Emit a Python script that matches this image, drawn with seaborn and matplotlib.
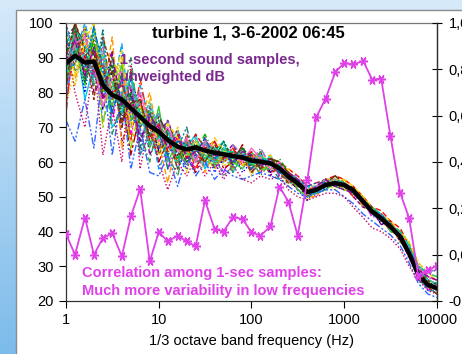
import numpy as np
import pandas as pd
import matplotlib
matplotlib.use("Agg")
import matplotlib.pyplot as plt
import seaborn as sns
from matplotlib.patches import Rectangle
from matplotlib.colors import LinearSegmentedColormap
from matplotlib.ticker import FixedLocator, FixedFormatter, NullLocator

# ---------------- data ----------------
freqs = [1, 1.25, 1.6, 2, 2.5, 3.15, 4, 5, 6.3, 8, 10, 12.5, 16, 20, 25, 31.5, 40, 50, 63, 80,
         100, 125, 160, 200, 250, 315, 400, 500, 630, 800, 1000, 1250, 1600, 2000, 2500, 3150,
         4000, 5000, 6300, 8000, 10000]

mean_db = [88.4, 90.6, 88.6, 88.9, 82.2, 79.3, 78.0, 75.5, 73.0, 70.4, 68.7, 66.3, 64.4, 63.6,
           64.2, 63.3, 62.7, 62.2, 61.7, 61.3, 60.4, 60.1, 59.6, 58.2, 55.8, 53.9, 51.3, 52.0,
           53.4, 53.9, 53.4, 51.9, 48.6, 45.7, 43.8, 41.4, 38.5, 33.7, 27.5, 24.6, 23.7]

correlation = [0.089, 0.0, 0.16, 0.0, 0.072, 0.093, -0.007, 0.165, 0.283, -0.029, 0.098, 0.057,
               0.082, 0.057, 0.036, 0.234, 0.11, 0.10, 0.162, 0.154, 0.096, 0.082, 0.122, 0.294,
               0.229, 0.082, 0.323, 0.594, 0.674, 0.788, 0.827, 0.821, 0.836, 0.756, 0.76, 0.512,
               0.268, 0.158, -0.093, -0.068, -0.047]

sample_01 = [96, 99, 84, 92, 75, 86, 70, 80, 66, 74, 63, 70, 60, 66, 61, 66, 60, 64, 59, 63, 58, 62, 57, 60, 54, 55, 50, 53, 52, 55, 52, 53, 47, 47, 42, 43, 37, 35, 26, 26, 22]
sample_02 = [78, 93, 97, 85, 90, 72, 84, 68, 78, 64, 72, 58, 67, 62, 58, 64, 61, 57, 63, 58, 62, 57, 61, 56, 57, 52, 52, 50, 55, 53, 54, 50, 49, 44, 45, 40, 39, 32, 29, 23, 25]
sample_03 = [90, 82, 95, 100, 80, 76, 90, 74, 70, 78, 66, 62, 70, 57, 66, 60, 65, 59, 60, 64, 56, 61, 58, 59, 53, 54, 49, 52, 54, 52, 55, 51, 48, 46, 43, 42, 38, 34, 27, 25, 23]
sample_04 = [84, 97, 78, 88, 95, 70, 74, 86, 62, 68, 74, 67, 58, 64, 68, 58, 63, 66, 57, 62, 61, 58, 62, 57, 56, 53, 53, 51, 53, 55, 52, 52, 50, 45, 44, 41, 40, 33, 28, 24, 24]
sample_05 = [92, 88, 99, 80, 84, 92, 66, 72, 80, 62, 68, 72, 64, 60, 62, 67, 58, 62, 65, 60, 59, 63, 56, 60, 55, 52, 51, 53, 55, 54, 53, 50, 47, 46, 42, 42, 37, 35, 27, 26, 23]
sample_06 = [74, 100, 90, 95, 78, 82, 80, 62, 74, 70, 60, 66, 69, 62, 57, 63, 66, 58, 60, 65, 57, 60, 61, 58, 57, 55, 50, 52, 53, 54, 54, 52, 49, 45, 44, 40, 39, 33, 29, 25, 24]
sample_07 = [98, 86, 92, 84, 98, 74, 86, 78, 64, 76, 70, 58, 64, 70, 60, 61, 62, 64, 58, 61, 63, 58, 59, 55, 54, 54, 52, 51, 54, 53, 52, 53, 48, 47, 43, 42, 38, 34, 26, 24, 22]
sample_08 = [86, 95, 80, 97, 86, 88, 72, 84, 76, 66, 64, 70, 62, 58, 66, 65, 57, 61, 63, 57, 60, 62, 57, 60, 56, 52, 49, 53, 52, 55, 53, 51, 49, 46, 45, 41, 39, 35, 28, 26, 25]
sample_09 = [80, 91, 100, 90, 72, 80, 94, 70, 82, 72, 58, 64, 66, 64, 61, 59, 64, 60, 62, 63, 59, 61, 60, 57, 55, 55, 51, 51, 54, 53, 54, 51, 48, 45, 43, 43, 38, 33, 27, 23, 23]
sample_10 = [94, 99, 88, 82, 92, 68, 78, 90, 68, 60, 72, 62, 56, 67, 63, 62, 60, 63, 57, 62, 61, 56, 60, 58, 57, 53, 52, 52, 53, 56, 53, 52, 50, 46, 44, 41, 40, 34, 28, 25, 24]
sample_11 = [88, 84, 93, 98, 80, 96, 64, 76, 72, 80, 66, 54, 68, 61, 65, 57, 63, 62, 61, 60, 58, 62, 58, 59, 54, 54, 50, 50, 54, 54, 52, 52, 47, 46, 43, 42, 37, 35, 27, 26, 22]
sample_12 = [76, 97, 86, 92, 88, 78, 84, 66, 84, 70, 70, 66, 60, 66, 58, 64, 60, 61, 64, 59, 62, 59, 57, 58, 56, 53, 52, 53, 53, 53, 54, 50, 49, 45, 44, 41, 39, 33, 28, 24, 24]
sample_13 = [100, 90, 96, 86, 76, 84, 76, 82, 62, 76, 64, 72, 63, 59, 64, 63, 62, 56, 59, 64, 57, 60, 61, 56, 55, 54, 51, 52, 55, 55, 53, 52, 48, 47, 43, 42, 38, 34, 26, 25, 23]
sample_14 = [82, 94, 82, 99, 84, 76, 88, 72, 78, 64, 76, 60, 66, 63, 60, 66, 59, 64, 60, 58, 63, 58, 58, 59, 57, 52, 50, 51, 52, 54, 54, 51, 49, 45, 45, 40, 39, 35, 29, 26, 25]
sample_15 = [90, 100, 92, 78, 96, 86, 70, 86, 70, 74, 62, 68, 58, 68, 62, 60, 64, 60, 62, 61, 57, 61, 59, 57, 54, 55, 52, 52, 54, 53, 53, 52, 48, 46, 43, 43, 38, 33, 27, 24, 22]
sample_16 = [85, 88, 98, 94, 70, 90, 82, 64, 76, 68, 68, 64, 64, 60, 67, 62, 58, 62, 58, 63, 60, 57, 60, 58, 56, 54, 51, 53, 53, 55, 52, 51, 49, 47, 44, 41, 40, 34, 28, 25, 24]
sample_17 = [72, 66, 78, 64, 86, 62, 80, 58, 70, 57, 56, 62, 53, 62, 56, 60, 55, 58, 56, 55, 56, 57, 56, 55, 53, 51, 50, 51, 52, 52, 50, 48, 45, 43, 41, 39, 36, 31, 25, 22, 21]
sample_18 = [95, 80, 70, 90, 62, 76, 60, 88, 58, 72, 60, 52, 60, 56, 61, 56, 60, 55, 59, 55, 54, 56, 55, 56, 52, 50, 49, 50, 51, 51, 50, 47, 44, 41, 40, 38, 35, 30, 26, 23, 22]
sample_19 = [93, 97, 90, 86, 88, 80, 82, 76, 78, 66, 71, 63, 67, 61, 68, 64, 66, 61, 64, 60, 63, 60, 61, 60, 58, 56, 53, 54, 55, 56, 55, 53, 50, 47, 46, 43, 41, 36, 30, 27, 26]
sample_20 = [83, 92, 86, 95, 79, 90, 76, 80, 71, 75, 67, 69, 61, 65, 63, 68, 62, 65, 60, 64, 59, 63, 58, 61, 57, 55, 52, 52, 54, 54, 53, 52, 49, 46, 45, 42, 39, 36, 30, 26, 25]
sample_21 = [97, 85, 94, 90, 85, 82, 92, 70, 76, 73, 65, 71, 67, 63, 66, 61, 67, 63, 63, 59, 62, 61, 62, 58, 58, 54, 53, 53, 55, 55, 55, 53, 50, 47, 45, 43, 40, 37, 31, 28, 26]
sample_22 = [79, 96, 89, 84, 93, 77, 78, 82, 68, 71, 74, 64, 62, 66, 61, 65, 63, 60, 65, 62, 60, 64, 59, 60, 56, 56, 52, 53, 54, 55, 54, 52, 49, 46, 44, 42, 39, 35, 29, 27, 24]
sample_23 = [91, 99, 83, 93, 81, 88, 74, 79, 74, 68, 69, 67, 65, 60, 65, 63, 61, 66, 61, 64, 61, 59, 61, 59, 57, 54, 52, 52, 55, 54, 53, 51, 48, 46, 44, 41, 39, 34, 28, 25, 25]
sample_24 = [87, 94, 96, 88, 76, 84, 86, 74, 80, 70, 66, 70, 63, 67, 60, 66, 64, 62, 62, 60, 64, 61, 58, 60, 56, 55, 51, 53, 54, 55, 54, 52, 49, 46, 45, 42, 40, 35, 30, 27, 26]
sample_25 = [99, 89, 91, 97, 90, 79, 80, 84, 72, 77, 70, 65, 69, 62, 67, 62, 60, 64, 61, 63, 60, 62, 60, 58, 57, 55, 53, 53, 55, 54, 53, 52, 48, 45, 44, 42, 38, 36, 29, 26, 25]
sample_26 = [81, 100, 93, 91, 83, 86, 72, 77, 78, 67, 73, 68, 62, 64, 64, 60, 65, 61, 63, 61, 62, 58, 61, 60, 57, 54, 52, 52, 54, 56, 54, 52, 49, 47, 44, 41, 40, 34, 28, 26, 23]
sample_27 = [95, 91, 87, 99, 87, 74, 84, 73, 70, 74, 68, 62, 66, 65, 62, 67, 61, 63, 60, 62, 58, 61, 60, 57, 56, 55, 53, 54, 54, 54, 53, 51, 48, 46, 45, 42, 39, 35, 30, 28, 29]
sample_28 = [77, 86, 99, 87, 91, 81, 90, 71, 75, 71, 62, 66, 64, 62, 66, 62, 63, 60, 62, 59, 61, 60, 59, 59, 55, 54, 52, 52, 54, 55, 54, 52, 50, 46, 44, 42, 40, 37, 31, 28, 27]
sample_29 = [89, 95, 85, 93, 78, 91, 76, 81, 66, 73, 70, 64, 68, 61, 63, 64, 62, 62, 60, 63, 62, 59, 60, 58, 57, 55, 51, 53, 55, 53, 52, 51, 48, 46, 44, 42, 39, 34, 29, 27, 26]
sample_30 = [86, 98, 94, 83, 88, 83, 74, 85, 74, 65, 67, 69, 60, 66, 64, 61, 64, 63, 63, 61, 59, 62, 59, 59, 56, 54, 52, 52, 53, 55, 54, 52, 49, 47, 45, 42, 40, 36, 30, 28, 27]

x_ticks = [1, 10, 100, 1000, 10000]
x_tick_labels = ["1", "10", "100", "1000", "10000"]
y_ticks = [20, 30, 40, 50, 60, 70, 80, 90, 100]
corr_ticks = [-0.2, 0.0, 0.2, 0.4, 0.6, 0.8, 1.0]
corr_tick_labels = ["-0,2", "0,0", "0,2", "0,4", "0,6", "0,8", "1,0"]

title_text = "turbine 1, 3-6-2002 06:45"
samples_text = ["1-second sound samples,", "unweighted dB"]
corr_text = ["Correlation among 1-sec samples:", "Much more variability in low frequencies"]
xlabel_text = "1/3 octave band frequency (Hz)"

sample_lists = [sample_01, sample_02, sample_03, sample_04, sample_05, sample_06, sample_07,
                sample_08, sample_09, sample_10, sample_11, sample_12, sample_13, sample_14,
                sample_15, sample_16, sample_17, sample_18, sample_19, sample_20, sample_21,
                sample_22, sample_23, sample_24, sample_25, sample_26, sample_27, sample_28,
                sample_29, sample_30]
rows = []
for i, vals in enumerate(sample_lists):
    for f, v in zip(freqs, vals):
        rows.append({"sample": f"s{i + 1:02d}", "freq": f, "dB": v})
df = pd.DataFrame(rows)

# ---------------- style ----------------
sns.set_theme(style="white")
plt.rcParams['font.family'] = ['Liberation Sans', 'DejaVu Sans']

W, H = 462, 354
fig = plt.figure(figsize=(W / 100, H / 100), dpi=100)

def fx(px):
    return px / W

def fy(py):
    return 1 - py / H

# background with blue gradient and white panel
bg = fig.add_axes([0, 0, 1, 1], zorder=-10)
grad = np.linspace(0, 1, 256).reshape(-1, 1)
cmap = LinearSegmentedColormap.from_list('bg', ['#d6eafa', '#a9d3f3', '#7cbbeb'])
bg.imshow(grad, aspect='auto', cmap=cmap, extent=[0, 1, 0, 1], origin='upper')
bg.add_patch(Rectangle((fx(15.5), -0.01), 1.0, fy(9.5) + 0.01, transform=bg.transAxes,
                       facecolor='white', edgecolor='#8c8c8c', lw=1.0))
bg.set_xlim(0, 1)
bg.set_ylim(0, 1)
bg.axis('off')

ax = fig.add_axes([fx(66), fy(301), fx(437) - fx(66), fy(23) - fy(301)])
ax.set_facecolor('none')

colors = ['#000080', '#ff00ff', '#e6c800', '#00c8e6', '#800080', '#b00000', '#008080', '#0000ff',
          '#00a0ff', '#2e9b57', '#ff9900', '#ff2a00', '#666699', '#33cc33', '#993300', '#99cc00',
          '#3366ff', '#cc0066', '#ff0000', '#00aa00', '#ffcc00', '#9966cc', '#006633', '#ff66cc',
          '#33cccc', '#663300', '#0066cc', '#cccc00', '#990099', '#00cc99']
base_dashes = [(4, 2), (6, 2, 1, 2), (2, 1), "", (3, 1.5), (8, 2, 2, 2),
               (5, 1.5, 1.5, 1.5, 1.5, 1.5), (1, 1.5), (4, 2), (6, 2, 1, 2)]
dash_list = [base_dashes[i % len(base_dashes)] for i in range(len(sample_lists))]

sns.lineplot(data=df, x="freq", y="dB", hue="sample", style="sample", palette=colors,
             dashes=dash_list, estimator=None, sort=False, lw=1.0, legend=False, ax=ax)
sns.lineplot(x=freqs, y=mean_db, color='black', lw=3.2, estimator=None, sort=False,
             legend=False, ax=ax)

ax.set_xscale('log')
ax.set_xlim(1, 10000)
ax.set_ylim(20, 100)
ax.xaxis.set_major_locator(FixedLocator(x_ticks))
ax.xaxis.set_major_formatter(FixedFormatter(x_tick_labels))
ax.xaxis.set_minor_locator(NullLocator())
ax.yaxis.set_major_locator(FixedLocator(y_ticks))
ax.set_ylabel("")
ax.set_xlabel(xlabel_text, fontsize=10.5, color='black', labelpad=5)
ax.tick_params(axis='both', which='major', labelsize=10.5, colors='black', length=5,
               width=0.8, direction='out', bottom=True, left=True, pad=4)
for side in ['left', 'bottom', 'right', 'top']:
    ax.spines[side].set_visible(True)
    ax.spines[side].set_color('#333333')
    ax.spines[side].set_linewidth(0.9)
ax.spines['top'].set_color('#777777')

ax2 = ax.twinx()
sns.lineplot(x=freqs, y=correlation, color='#e040e8', lw=1.3, marker=(6, 2, 90),
             markersize=6.5, markeredgewidth=1.1, markeredgecolor='#e040e8',
             estimator=None, sort=False, legend=False, ax=ax2)
ax2.set_ylim(-0.2, 1.0)
ax2.yaxis.set_major_locator(FixedLocator(corr_ticks))
ax2.yaxis.set_major_formatter(FixedFormatter(corr_tick_labels))
ax2.set_ylabel("")
ax2.tick_params(axis='y', right=True, labelsize=10.5, colors='black', length=7,
                width=0.8, direction='inout', pad=5)
ax2.spines['right'].set_color('#333333')
ax2.spines['right'].set_linewidth(0.9)
for side in ['left', 'top', 'bottom']:
    ax2.spines[side].set_visible(False)

# annotations
fig.text(fx(248), fy(33), title_text, ha='center', va='center', fontsize=12,
         fontweight='bold', color='black')
fig.text(fx(120), fy(60), samples_text[0], ha='left', va='center', fontsize=10.5,
         fontweight='bold', color='#7a2a8f')
fig.text(fx(120), fy(77), samples_text[1], ha='left', va='center', fontsize=10.5,
         fontweight='bold', color='#7a2a8f')
fig.text(fx(82), fy(273), corr_text[0], ha='left', va='center', fontsize=10.5,
         fontweight='bold', color='#e040e8')
fig.text(fx(82), fy(291), corr_text[1], ha='left', va='center', fontsize=10.5,
         fontweight='bold', color='#e040e8')

fig.savefig("out.png", dpi=100)
